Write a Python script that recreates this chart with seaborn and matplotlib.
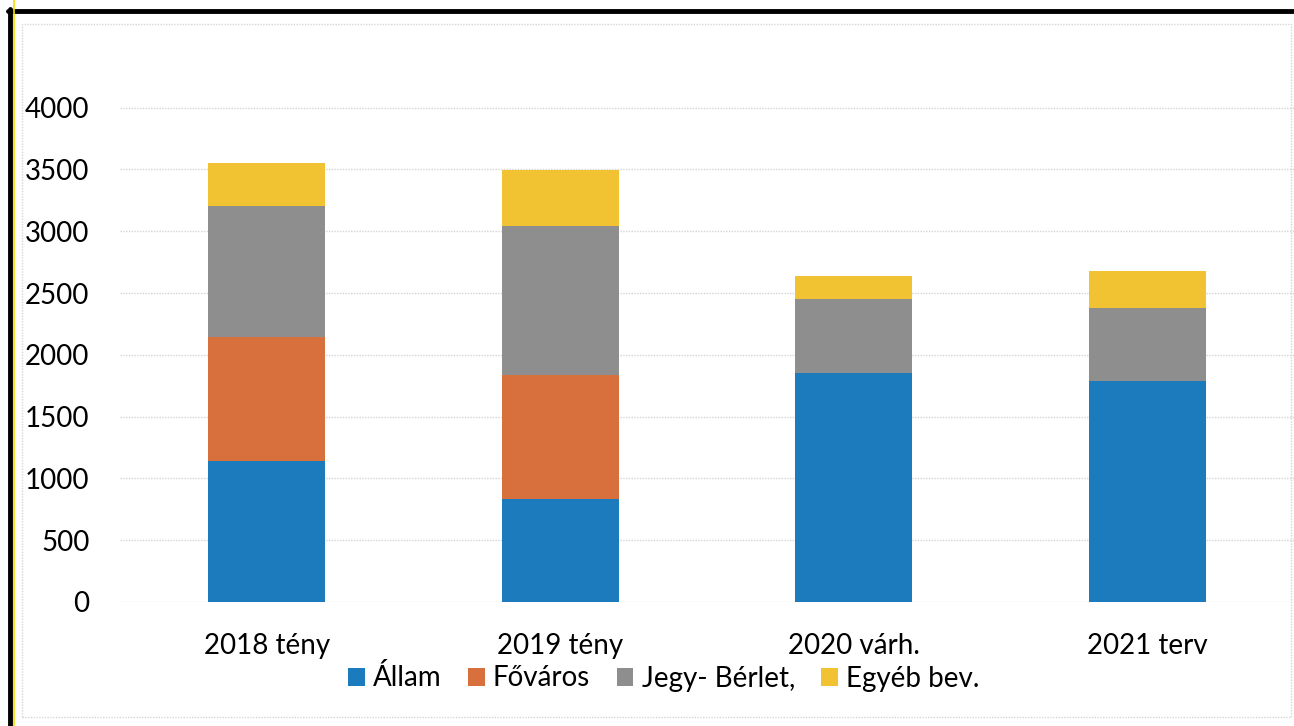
import matplotlib
matplotlib.use("Agg")
import matplotlib.pyplot as plt
import matplotlib.patches as mpatches
from matplotlib.lines import Line2D
import seaborn as sns
import numpy as np

years = ["2018 tény", "2019 tény", "2020 várh.", "2021 terv"]
allam = [1140, 835, 1855, 1790]
fovaros = [1005, 1005, 0, 0]
jegy = [1060, 1200, 600, 585]
egyeb = [350, 455, 180, 300]

series = ["Állam", "Főváros", "Jegy- Bérlet,", "Egyéb bev."]
values = [allam, fovaros, jegy, egyeb]
colors = ["#1b7bbd", "#d8703e", "#8e8e8e", "#f1c232"]
yticks = [0, 500, 1000, 1500, 2000, 2500, 3000, 3500, 4000]

sns.set_style("white")
plt.rcParams["font.family"] = ["Lato", "DejaVu Sans"]

fig = plt.figure(figsize=(12.94, 7.26), dpi=100)
ax = fig.add_axes([0.0927, 0.1708, 0.9073, 0.7576])

# stacked bars, one barplot call per series
bottom = np.zeros(len(years))
for name, vals, col in zip(series, values, colors):
    sns.barplot(x=years, y=vals, bottom=bottom, color=col, width=0.4,
                saturation=1, linewidth=0, ax=ax, label=name, zorder=3)
    bottom = bottom + np.array(vals)

ax.set_ylim(0, 4450)
ax.set_xlim(-0.5, 3.5)
ax.set_yticks(yticks)
ax.set_yticklabels([str(t) for t in yticks])
ax.yaxis.grid(True, color="#d4d4d4", linestyle=(0, (1, 1)), linewidth=1, zorder=0)
ax.xaxis.grid(False)
for s in ax.spines.values():
    s.set_visible(False)
ax.tick_params(axis="y", length=0, pad=22, labelsize=20, colors="#000000")
ax.tick_params(axis="x", length=0, pad=22, labelsize=20, colors="#000000")
ax.set_xlabel("")
ax.set_ylabel("")
if ax.get_legend():
    ax.get_legend().remove()

handles = [mpatches.Patch(facecolor=c, edgecolor="none") for c in colors]
fig.legend(handles, series, loc="center", bbox_to_anchor=(0.513, 1 - 678 / 726),
           ncol=4, frameon=False, fontsize=20, handlelength=0.6, handleheight=0.6,
           handletextpad=0.3, columnspacing=0.95, labelcolor="#000000")

# scanned frame: inner dotted border, black outer border with yellow edge
W, H = 1294, 726
def fx(p): return p / W
def fy(p): return 1 - p / H
fig.add_artist(mpatches.Rectangle((fx(22), fy(717)), fx(1291) - fx(22), fy(24) - fy(717),
                                  transform=fig.transFigure, fill=False,
                                  edgecolor="#d6d6d6", linestyle=(0, (1, 1)), linewidth=1))
fig.add_artist(Line2D([fx(8), 1], [fy(11), fy(11)], transform=fig.transFigure,
                      color="black", linewidth=3.5))
fig.add_artist(Line2D([fx(10), fx(10)], [0, fy(9)], transform=fig.transFigure,
                      color="black", linewidth=3.5))
fig.add_artist(Line2D([fx(13.5), fx(13.5)], [0, 1], transform=fig.transFigure,
                      color="#f2e000", linewidth=1.2))

fig.savefig("out.png", dpi=100)
